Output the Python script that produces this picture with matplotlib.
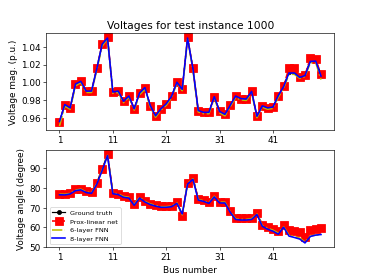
import numpy as np
from matplotlib import pyplot as plt

plt.rcParams['font.size'] = 11

bus = np.arange(1, 51)

# voltage magnitudes (p.u.)
mag_truth = [0.9556, 0.9748, 0.9710, 0.9980, 1.0015, 0.9900, 0.9900, 1.0160, 1.0433, 1.0507,
             0.9890, 0.9900, 0.9785, 0.9844, 0.9700, 0.9878, 0.9940, 0.9737, 0.9620, 0.9700,
             0.9756, 0.9840, 1.0007, 0.9920, 1.0507, 1.0156, 0.9680, 0.9660, 0.9660, 0.9837,
             0.9670, 0.9637, 0.9740, 0.9844, 0.9815, 0.9810, 0.9896, 0.9615, 0.9733, 0.9710,
             0.9720, 0.9850, 0.9956, 1.0120, 1.0120, 1.0060, 1.0080, 1.0250, 1.0250, 1.0090]
mag_prox = [0.9556, 0.9748, 0.9710, 0.9980, 1.0015, 0.9900, 0.9900, 1.0160, 1.0433, 1.0507,
            0.9890, 0.9900, 0.9785, 0.9844, 0.9700, 0.9878, 0.9940, 0.9737, 0.9620, 0.9700,
            0.9756, 0.9840, 1.0007, 0.9920, 1.0507, 1.0156, 0.9680, 0.9660, 0.9660, 0.9837,
            0.9670, 0.9637, 0.9740, 0.9844, 0.9815, 0.9810, 0.9896, 0.9615, 0.9733, 0.9710,
            0.9720, 0.9850, 0.9956, 1.0163, 1.0163, 1.0060, 1.0080, 1.0274, 1.0260, 1.0090]
mag_fnn6 = [0.9505, 0.9730, 0.9695, 0.9960, 0.9995, 0.9885, 0.9885, 1.0140, 1.0410, 1.0490,
            0.9875, 0.9885, 0.9770, 0.9830, 0.9685, 0.9860, 0.9920, 0.9720, 0.9605, 0.9685,
            0.9740, 0.9825, 0.9990, 0.9905, 1.0490, 1.0140, 0.9665, 0.9645, 0.9645, 0.9820,
            0.9655, 0.9620, 0.9725, 0.9828, 0.9800, 0.9795, 0.9880, 0.9600, 0.9718, 0.9695,
            0.9705, 0.9830, 0.9935, 1.0090, 1.0090, 1.0045, 1.0065, 1.0220, 1.0225, 1.0030]
mag_fnn8 = [0.9556, 0.9748, 0.9710, 0.9980, 1.0010, 0.9900, 0.9900, 1.0155, 1.0430, 1.0500,
            0.9890, 0.9900, 0.9785, 0.9844, 0.9700, 0.9878, 0.9940, 0.9737, 0.9620, 0.9700,
            0.9756, 0.9840, 1.0000, 0.9920, 1.0500, 1.0156, 0.9680, 0.9660, 0.9660, 0.9837,
            0.9670, 0.9637, 0.9740, 0.9844, 0.9815, 0.9810, 0.9896, 0.9615, 0.9733, 0.9710,
            0.9720, 0.9850, 0.9950, 1.0105, 1.0105, 1.0055, 1.0075, 1.0235, 1.0240, 1.0070]

# voltage angles (degree)
ang_truth = [77.2, 77.1, 77.6, 79.3, 79.7, 78.3, 77.9, 82.8, 89.7, 97.2,
             77.6, 77.2, 75.9, 75.5, 71.7, 75.5, 73.4, 72.1, 71.4, 70.7,
             70.7, 71.0, 72.8, 65.9, 82.8, 85.2, 74.5, 73.8, 72.8, 76.2,
             73.1, 73.1, 68.3, 64.8, 64.5, 64.5, 64.8, 67.2, 61.4, 60.3,
             59.3, 58.3, 61.4, 58.6, 58.3, 57.6, 54.8, 58.6, 59.0, 59.7]
ang_prox = ang_truth
ang_fnn6 = [76.9, 76.8, 77.3, 79.0, 79.4, 78.0, 77.6, 82.3, 89.2, 96.7,
            77.4, 77.0, 75.7, 75.3, 71.6, 75.3, 73.2, 71.9, 71.2, 70.5,
            70.5, 70.8, 72.5, 66.4, 82.4, 84.8, 74.2, 73.5, 72.5, 75.8,
            72.8, 72.8, 67.9, 64.3, 64.0, 64.0, 64.4, 66.8, 60.8, 59.5,
            58.5, 57.0, 60.2, 56.0, 55.2, 54.5, 52.5, 55.5, 56.0, 56.0]
ang_fnn8 = [76.6, 76.5, 77.0, 78.7, 79.1, 77.7, 77.3, 82.0, 89.0, 96.6,
            77.1, 76.7, 75.3, 74.9, 71.2, 74.9, 72.9, 71.6, 70.8, 70.2,
            70.2, 70.5, 72.2, 66.8, 82.0, 84.5, 73.9, 73.2, 72.2, 75.5,
            72.4, 72.4, 67.6, 64.0, 63.7, 63.7, 64.0, 66.5, 60.5, 59.0,
            58.0, 56.5, 60.0, 55.5, 54.8, 54.0, 52.0, 55.3, 56.0, 56.3]

xt = [1, 11, 21, 31, 41]
mag_ticks = [0.96, 0.98, 1.00, 1.02, 1.04]
ang_ticks = [50, 60, 70, 80, 90]

fig, (ax1, ax2) = plt.subplots(2, 1, figsize=(6.4, 4.8), dpi=58)

ax1.plot(bus, mag_truth, 'ko-', markersize=5, label='Ground truth')
ax1.plot(bus, mag_prox, 'rs--', markersize=9, linewidth=2, label='Prox-linear net')
ax1.plot(bus, mag_fnn6, 'y-.', linewidth=2, label='6-layer FNN')
ax1.plot(bus, mag_fnn8, 'b-', linewidth=2, label='8-layer FNN')
ax1.set_xticks(xt)
ax1.set_yticks(mag_ticks)
ax1.set_ylabel('Voltage mag. (p.u.)')
ax1.set_title('Voltages for test instance 1000')

ax2.plot(bus, ang_truth, 'ko-', markersize=5, label='Ground truth')
ax2.plot(bus, ang_prox, 'rs--', markersize=9, linewidth=2, label='Prox-linear net')
ax2.plot(bus, ang_fnn6, 'y-.', linewidth=2, label='6-layer FNN')
ax2.plot(bus, ang_fnn8, 'b-', linewidth=2, label='8-layer FNN')
ax2.set_xticks(xt)
ax2.set_yticks(ang_ticks)
ax2.set_ylabel('Voltage angle (degree)')
ax2.set_xlabel('Bus number')
ax2.legend(loc='lower left', fontsize=8)

plt.savefig('out.png', dpi=58)
